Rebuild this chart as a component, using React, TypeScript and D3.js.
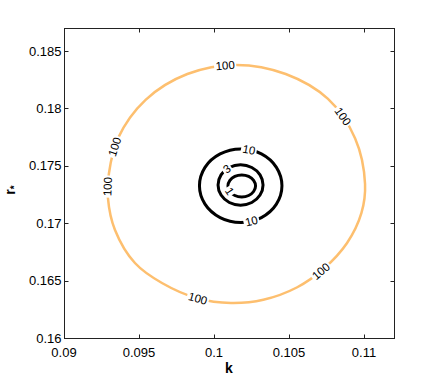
import { useEffect, useRef } from "react";
import * as d3 from "d3";

// axis ticks
const kTicks = [0.09, 0.095, 0.1, 0.105, 0.11];
const rTicks = [0.16, 0.165, 0.17, 0.175, 0.18, 0.185];

// contour level 100 (orange), going round from the right
const ring100K = [0.11007, 0.10983, 0.10887, 0.10733, 0.10555, 0.10329, 0.10113, 0.09893, 0.09653, 0.09473, 0.0934, 0.09293, 0.093, 0.09359, 0.09544, 0.09822, 0.1015, 0.10478, 0.1076, 0.10941];
const ring100R = [0.17341, 0.17089, 0.16827, 0.16605, 0.16442, 0.16333, 0.16305, 0.16344, 0.16479, 0.16653, 0.16941, 0.17219, 0.17437, 0.17738, 0.18074, 0.18299, 0.18378, 0.18299, 0.18082, 0.17738];

// contour level 10
const ring10K = [0.10453, 0.10416, 0.10316, 0.10178, 0.10041, 0.0994, 0.09903, 0.0994, 0.10041, 0.10178, 0.10316, 0.10416];
const ring10R = [0.17326, 0.17166, 0.17049, 0.17006, 0.17049, 0.17166, 0.17326, 0.17486, 0.17603, 0.17646, 0.17603, 0.17486];

// contour level 3
const ring3K = [0.10327, 0.10307, 0.10252, 0.10177, 0.10102, 0.10047, 0.10027, 0.10047, 0.10102, 0.10177, 0.10252, 0.10307];
const ring3R = [0.17333, 0.17245, 0.1718, 0.17157, 0.1718, 0.17245, 0.17333, 0.17421, 0.17485, 0.17509, 0.17485, 0.17421];

// contour level 1
const ring1K = [0.10277, 0.10264, 0.10231, 0.10185, 0.10139, 0.10106, 0.10093, 0.10106, 0.10139, 0.10185, 0.10231, 0.10264];
const ring1R = [0.17324, 0.17276, 0.17241, 0.17228, 0.17241, 0.17276, 0.17324, 0.17372, 0.17407, 0.1742, 0.17407, 0.17372];

// inline label positions per level
const label100K = [0.10073, 0.1086, 0.10693, 0.09893, 0.09293, 0.09353];
const label100R = [0.1837, 0.1793, 0.16613, 0.16347, 0.1732, 0.1766];
const label10K = [0.10233, 0.10247];
const label10R = [0.17642, 0.17023];
const label3K = [0.10087];
const label3R = [0.17468];
const label1K = [0.10113];
const label1R = [0.17285];

const levels = [
  { name: "100", k: ring100K, r: ring100R, lk: label100K, lr: label100R, color: "#fdbf6f", width: 2.5 },
  { name: "10", k: ring10K, r: ring10R, lk: label10K, lr: label10R, color: "#000", width: 3 },
  { name: "3", k: ring3K, r: ring3R, lk: label3K, lr: label3R, color: "#000", width: 3 },
  { name: "1", k: ring1K, r: ring1R, lk: label1K, lr: label1R, color: "#000", width: 3 },
];

const FONT = "'Liberation Sans', Arial, Helvetica, sans-serif";

function ContourChart() {
  const svgRef = useRef<SVGSVGElement | null>(null);

  useEffect(() => {
    const svgElement = svgRef.current;
    if (!svgElement) return;

    const width = 436;
    const height = 382;
    const left = 64, right = 394, top = 28, bottom = 338;

    const svg = d3.select(svgElement);
    svg.selectAll("*").remove();

    const x = d3.scaleLinear().domain([0.09, 0.112]).range([left, right]);
    const y = d3.scaleLinear().domain([0.16, 0.187]).range([bottom, top]);

    svg.append("rect").attr("width", width).attr("height", height).attr("fill", "#fff");

    const line = d3
      .line<[number, number]>()
      .x((d) => x(d[0]))
      .y((d) => y(d[1]))
      .curve(d3.curveCatmullRomClosed.alpha(0.5));

    const plot = svg.append("g");

    levels.forEach((lev) => {
      const pts = lev.k.map((kv, i) => [kv, lev.r[i]] as [number, number]);
      const path = plot
        .append("path")
        .attr("d", line(pts))
        .attr("fill", "none")
        .attr("stroke", lev.color)
        .attr("stroke-width", lev.width);

      const node = path.node() as SVGPathElement;
      const total = node.getTotalLength();

      lev.lk.forEach((kv, i) => {
        const px = x(kv);
        const py = y(lev.lr[i]);
        let best = 0;
        let bestD = Infinity;
        for (let s = 0; s <= total; s += 0.5) {
          const p = node.getPointAtLength(s);
          const dd = (p.x - px) ** 2 + (p.y - py) ** 2;
          if (dd < bestD) {
            bestD = dd;
            best = s;
          }
        }
        const p = node.getPointAtLength(best);
        const a = node.getPointAtLength((best - 3 + total) % total);
        const b = node.getPointAtLength((best + 3) % total);
        let angle = (Math.atan2(b.y - a.y, b.x - a.x) * 180) / Math.PI;
        if (angle > 90) angle -= 180;
        if (angle <= -90) angle += 180;

        const g = plot.append("g").attr("transform", `translate(${p.x},${p.y}) rotate(${angle})`);
        const rect = g.append("rect").attr("fill", "#fff");
        const text = g
          .append("text")
          .attr("text-anchor", "middle")
          .attr("dy", "0.35em")
          .attr("font-family", FONT)
          .attr("font-size", 11.5)
          .attr("fill", "#000")
          .text(lev.name);
        const w = (text.node() as SVGTextElement).getComputedTextLength();
        rect.attr("x", -w / 2 - 1.5).attr("y", -5).attr("width", w + 3).attr("height", 10);
      });
    });

    // box and inward ticks
    const axisColor = "#222";
    svg
      .append("rect")
      .attr("x", left + 0.5)
      .attr("y", top + 0.5)
      .attr("width", right - left)
      .attr("height", bottom - top)
      .attr("fill", "none")
      .attr("stroke", axisColor)
      .attr("stroke-width", 1);

    const tickLen = 4;
    kTicks.forEach((t) => {
      const xx = Math.round(x(t)) + 0.5;
      svg.append("line").attr("x1", xx).attr("x2", xx).attr("y1", bottom + 0.5).attr("y2", bottom + 0.5 - tickLen).attr("stroke", axisColor);
      svg.append("line").attr("x1", xx).attr("x2", xx).attr("y1", top + 0.5).attr("y2", top + 0.5 + tickLen).attr("stroke", axisColor);
      svg
        .append("text")
        .attr("x", x(t))
        .attr("y", bottom + 19)
        .attr("text-anchor", "middle")
        .attr("font-family", FONT)
        .attr("font-size", 13)
        .attr("fill", "#000")
        .text(String(t));
    });
    rTicks.forEach((t) => {
      const yy = Math.round(y(t)) + 0.5;
      svg.append("line").attr("x1", left + 0.5).attr("x2", left + 0.5 + tickLen).attr("y1", yy).attr("y2", yy).attr("stroke", axisColor);
      svg.append("line").attr("x1", right + 0.5).attr("x2", right + 0.5 - tickLen).attr("y1", yy).attr("y2", yy).attr("stroke", axisColor);
      svg
        .append("text")
        .attr("x", left - 2.5)
        .attr("y", y(t))
        .attr("dy", "0.35em")
        .attr("text-anchor", "end")
        .attr("font-family", FONT)
        .attr("font-size", 13)
        .attr("fill", "#000")
        .text(String(t));
    });

    // axis titles
    svg
      .append("text")
      .attr("x", (left + right) / 2)
      .attr("y", 373)
      .attr("text-anchor", "middle")
      .attr("font-family", FONT)
      .attr("font-size", 14)
      .attr("font-weight", "bold")
      .attr("fill", "#000")
      .text("k");

    const yTitle = svg
      .append("text")
      .attr("transform", `translate(15,190) rotate(-90)`)
      .attr("text-anchor", "middle")
      .attr("font-family", FONT)
      .attr("font-size", 14)
      .attr("font-weight", "bold")
      .attr("fill", "#000");
    yTitle.append("tspan").text("r");
    yTitle.append("tspan").attr("font-size", 10).attr("dy", 3).text("*");
  }, []);

  return (
    <svg
      ref={svgRef}
      width={436}
      height={382}
      style={{ position: "absolute", left: 0, top: 0 }}
      role="img"
      aria-label="Contour plot"
    />
  );
}

export default function App() {
  return <ContourChart />;
}
